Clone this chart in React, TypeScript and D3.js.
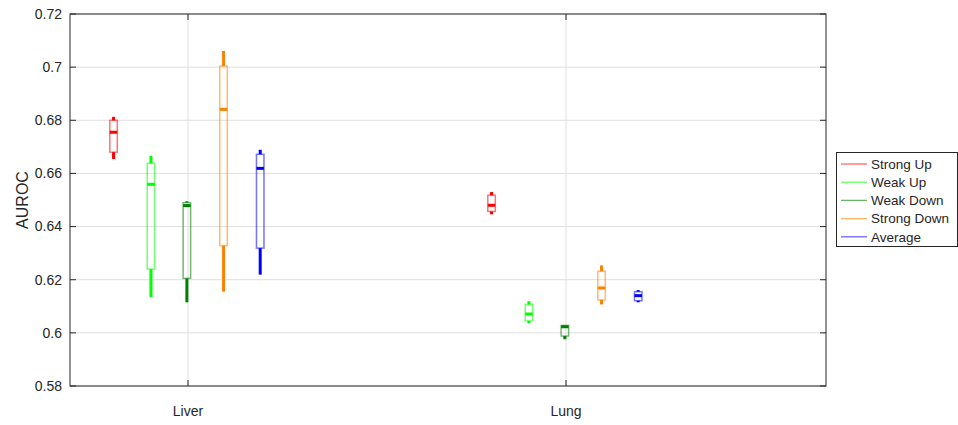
import React from "react";
import * as d3 from "d3";

const categories = ["Liver", "Lung"];
const seriesNames = ["Strong Up", "Weak Up", "Weak Down", "Strong Down", "Average"];
const seriesColors = ["#ff0000", "#00ff00", "#008000", "#ff8000", "#0000ff"];
// [whiskerLow, q1, median, q3, whiskerHigh] per category
const strongUp = [
  [0.6654, 0.668, 0.6755, 0.68, 0.6813],
  [0.6446, 0.6457, 0.648, 0.6518, 0.653],
];
const weakUp = [
  [0.6134, 0.624, 0.6559, 0.6638, 0.6666],
  [0.6037, 0.6045, 0.6071, 0.6107, 0.6119],
];
const weakDown = [
  [0.6115, 0.6205, 0.6479, 0.649, 0.6495],
  [0.5976, 0.5988, 0.6023, 0.6028, 0.6028],
];
const strongDown = [
  [0.6155, 0.6328, 0.6841, 0.7004, 0.7061],
  [0.6107, 0.6124, 0.6169, 0.6232, 0.6254],
];
const average = [
  [0.6219, 0.6319, 0.6619, 0.6672, 0.6689],
  [0.6115, 0.6121, 0.614, 0.6155, 0.6161],
];
const yTicks = [0.58, 0.6, 0.62, 0.64, 0.66, 0.68, 0.7, 0.72];
const offsets = [-0.197, -0.098, -0.003, 0.094, 0.191];

const allSeries = [strongUp, weakUp, weakDown, strongDown, average];

export default function App() {
  const W = 958, H = 425;
  const left = 70, right = 826, top = 14, bottom = 386;
  const x = d3.scaleLinear().domain([0.6878, 2.6878]).range([left, right]);
  const y = d3.scaleLinear().domain([0.58, 0.72]).range([bottom, top]);
  const axisColor = "#262626";
  const font = "'Liberation Sans', Arial, Helvetica, sans-serif";
  const bw = 7.5;

  return (
    <svg width={W} height={H} style={{ position: "absolute", left: 0, top: 0 }} fontFamily={font}>
      <rect x={0} y={0} width={W} height={H} fill="#fff" />
      {/* grid */}
      {yTicks.map((t) => (
        <line key={"g" + t} x1={left} x2={right} y1={y(t)} y2={y(t)} stroke="#dfdfdf" strokeWidth={1} />
      ))}
      {categories.map((c, i) => (
        <line key={"gx" + c} x1={x(i + 1)} x2={x(i + 1)} y1={top} y2={bottom} stroke="#dfdfdf" strokeWidth={1} />
      ))}
      {/* boxes */}
      {allSeries.map((s, si) =>
        s.map((d, ci) => {
          const cx = x(ci + 1 + offsets[si]);
          const col = seriesColors[si];
          const [wl, q1, med, q3, wh] = d;
          return (
            <g key={si + "-" + ci}>
              <line x1={cx} x2={cx} y1={y(q3)} y2={y(wh)} stroke={col} strokeWidth={3} />
              <line x1={cx} x2={cx} y1={y(q1)} y2={y(wl)} stroke={col} strokeWidth={3} />
              <rect x={cx - bw / 2} y={y(q3)} width={bw} height={Math.max(0.5, y(q1) - y(q3))} fill="none" stroke={col} strokeOpacity={0.55} strokeWidth={1.5} />
              <line x1={cx - bw / 2} x2={cx + bw / 2} y1={y(med)} y2={y(med)} stroke={col} strokeWidth={3} />
            </g>
          );
        })
      )}
      {/* axes box */}
      <rect x={left} y={top} width={right - left} height={bottom - top} fill="none" stroke={axisColor} strokeWidth={1} />
      {yTicks.map((t) => (
        <g key={"t" + t}>
          <line x1={left} x2={left + 6} y1={y(t)} y2={y(t)} stroke={axisColor} />
          <line x1={right} x2={right - 6} y1={y(t)} y2={y(t)} stroke={axisColor} />
          <text x={left - 8} y={y(t)} dy="0.35em" textAnchor="end" fontSize={14} fill={axisColor}>
            {String(t).replace(/^0\.(\d)0$/, "0.$1")}
          </text>
        </g>
      ))}
      {categories.map((c, i) => (
        <g key={"xl" + c}>
          <line x1={x(i + 1)} x2={x(i + 1)} y1={bottom} y2={bottom - 6} stroke={axisColor} />
          <line x1={x(i + 1)} x2={x(i + 1)} y1={top} y2={top + 6} stroke={axisColor} />
          <text x={x(i + 1)} y={416} textAnchor="middle" fontSize={14} fill={axisColor}>{c}</text>
        </g>
      ))}
      <text transform={`translate(28,${(top + bottom) / 2}) rotate(-90)`} textAnchor="middle" fontSize={16} fill={axisColor}>AUROC</text>
      {/* legend */}
      <rect x={836.5} y={152.5} width={121} height={94} fill="#fff" stroke={axisColor} strokeWidth={1} />
      {seriesNames.map((n, i) => {
        const ly = 164 + i * 18.2;
        return (
          <g key={"lg" + n}>
            <line x1={841} x2={867} y1={ly} y2={ly} stroke={seriesColors[i]} strokeOpacity={0.6} strokeWidth={1.3} />
            <text x={871} y={ly} dy="0.35em" fontSize={13.5} fill={axisColor}>{n}</text>
          </g>
        );
      })}
    </svg>
  );
}
